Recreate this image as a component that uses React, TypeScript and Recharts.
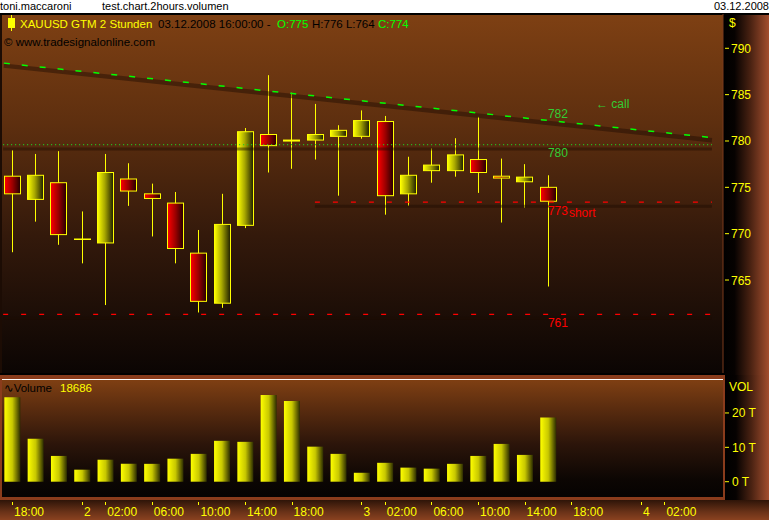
import React from "react";
import { ComposedChart, Bar, XAxis, YAxis, ReferenceLine, ReferenceDot } from "recharts";

// 2h XAUUSD candles, 01.12 18:00 -> 03.12 16:00
const opens = [776.2, 773.7, 775.5, 769.4, 769.0, 775.9, 774.3, 773.3, 767.9, 762.5, 770.9, 780.7, 780.0, 780.1, 780.5, 780.5, 782.1, 774.3, 776.8, 776.8, 778.0, 776.2, 775.6, 775.0];
const highs = [779.0, 778.6, 778.9, 772.4, 778.6, 777.6, 775.4, 774.5, 770.4, 774.3, 781.4, 787.1, 785.2, 784.0, 781.7, 783.3, 782.7, 778.3, 779.2, 780.3, 782.6, 778.1, 777.5, 776.3];
const lows = [768.0, 771.3, 768.8, 766.8, 762.3, 773.0, 769.7, 766.8, 761.5, 762.0, 770.6, 776.6, 777.0, 778.0, 774.1, 780.25, 772.05, 773.0, 775.5, 776.15, 774.4, 771.2, 772.8, 764.3];
const closes = [774.3, 776.3, 769.9, 769.4, 776.6, 774.6, 773.8, 768.4, 762.7, 771.0, 781.0, 779.5, 780.1, 780.7, 781.15, 782.2, 774.1, 776.3, 777.4, 778.5, 776.6, 776.0, 776.1, 773.5];
// volume in thousands
const volumes = [24.6, 12.5, 7.5, 3.5, 6.4, 5.2, 5.2, 6.7, 8.1, 11.9, 11.6, 25.2, 23.5, 10.2, 8.1, 2.6, 5.5, 4.1, 3.8, 5.2, 7.5, 11.0, 7.8, 18.686];

const timeTicks = [0, 3, 4, 6, 8, 10, 12, 15, 16, 18, 20, 22, 24, 27, 28];
const timeLabels = ["18:00", "2", "02:00", "06:00", "10:00", "14:00", "18:00", "3", "02:00", "06:00", "10:00", "14:00", "18:00", "4", "02:00"];
const priceTicks = [765, 770, 775, 780, 785, 790];
const volTicks = [0, 10, 20];

// drawn levels
const trendLine = [{ x: -0.35, y: 788.4 }, { x: 30.04, y: 780.36 }];
const callLevel = 779.6;
const shortLevel = 773.4;
const stopLevel = 761.3;
const levelStart = -0.38;
const shortStart = 13;
const levelEnd = 30.04;

const candles = opens.map((o, i) => ({ i, o, h: highs[i], l: lows[i], c: closes[i], range: [lows[i], highs[i]] }));
const volData = volumes.map((v, i) => ({ i, v }));

const X_DOMAIN: [number, number] = [-0.386, 30.515];
const PRICE_DOMAIN: [number, number] = [754.97, 793.7];
const VOL_DOMAIN: [number, number] = [-4.45, 29.3];

const FONT = '"Liberation Sans", Arial, "DejaVu Sans", sans-serif';
const YELLOW = "#ffff00";
const GREEN = "#33cc33";
const RED = "#ff0000";
const SHADOW = "rgba(28,10,2,0.45)";

function Candle(props: any) {
  const { x, y, width, height, payload } = props;
  const cx = Math.round(x + width / 2) + 0.5;
  const top = Math.min(y, y + height);
  const h = Math.abs(height);
  const ppu = h / (payload.h - payload.l);
  const yOf = (v: number) => top + (payload.h - v) * ppu;
  const bTop = yOf(Math.max(payload.o, payload.c));
  const bBot = yOf(Math.min(payload.o, payload.c));
  return (
    <g>
      <line x1={cx} x2={cx} y1={top} y2={top + h} stroke={YELLOW} strokeWidth={1} />
      {payload.o === payload.c ? (
        <line x1={cx - 8.5} x2={cx + 8.5} y1={bTop} y2={bTop} stroke={YELLOW} strokeWidth={1.5} />
      ) : (
        <rect x={cx - 8} y={bTop} width={16} height={Math.max(bBot - bTop, 1)}
          fill={payload.c > payload.o ? "url(#gBull)" : "url(#gBear)"} stroke={YELLOW} strokeWidth={1} />
      )}
    </g>
  );
}

function levelShape(color: string, dash: string, off: number, shadowW: number, w = 1.2) {
  return (p: any) => (
    <g>
      <line x1={p.x1} y1={p.y1 + off} x2={p.x2} y2={p.y2 + off} stroke={SHADOW} strokeWidth={shadowW} />
      <line x1={p.x1} y1={p.y1} x2={p.x2} y2={p.y2} stroke={color} strokeWidth={w} strokeDasharray={dash} />
    </g>
  );
}

function textLabel(text: string, color: string, dx: number, dy: number) {
  return (p: any) => {
    const vb = p.viewBox || {};
    return (
      <text x={vb.x + dx} y={vb.y + dy} fill={color} fontSize={12} fontFamily={FONT}>{text}</text>
    );
  };
}

function PriceTick(props: any) {
  const { x, y, payload } = props;
  return (
    <g>
      <line x1={x + 2} x2={x + 6} y1={y} y2={y} stroke={YELLOW} />
      <text x={x + 8} y={y + 4.5} fill={YELLOW} fontSize={12} fontFamily={FONT}>{payload.value}</text>
    </g>
  );
}

function VolTick(props: any) {
  const { x, y, payload } = props;
  return (
    <g>
      <line x1={x + 2} x2={x + 6} y1={y} y2={y} stroke={YELLOW} />
      <text x={x + 9} y={y + 4.5} fill={YELLOW} fontSize={12} fontFamily={FONT}>{payload.value} T</text>
    </g>
  );
}

function TimeTick(props: any) {
  const { x, y, payload } = props;
  const k = timeTicks.indexOf(payload.value);
  const tx = Math.round(x) + 0.5;
  return (
    <g>
      <line x1={tx} x2={tx} y1={y + 5} y2={y + 8} stroke={YELLOW} />
      <text x={x + 2} y={y + 19} fill={YELLOW} fontSize={12} fontFamily={FONT}>{timeLabels[k]}</text>
    </g>
  );
}

const abs = (l: number, t: number, w: number, h: number, extra: React.CSSProperties = {}): React.CSSProperties => ({
  position: "absolute", left: l, top: t, width: w, height: h, ...extra,
});

const txt = (l: number, t: number, color: string, size = 11.5): React.CSSProperties => ({
  position: "absolute", left: l, top: t, color, fontSize: size, fontFamily: FONT, lineHeight: "12px", whiteSpace: "nowrap",
});

export default function App() {
  return (
    <div style={{ position: "absolute", left: 0, top: 0, width: 769, height: 520, overflow: "hidden", background: "#fff" }}>
      <svg width={0} height={0} style={{ position: "absolute" }}>
        <defs>
          <linearGradient id="gBull" x1="0" y1="0" x2="1" y2="0">
            <stop offset="0%" stopColor="#ffff00" />
            <stop offset="45%" stopColor="#a8a800" />
            <stop offset="100%" stopColor="#1c1c00" />
          </linearGradient>
          <linearGradient id="gBear" x1="0" y1="0" x2="1" y2="0">
            <stop offset="0%" stopColor="#ff0000" />
            <stop offset="50%" stopColor="#9a0000" />
            <stop offset="100%" stopColor="#220000" />
          </linearGradient>
          <linearGradient id="gVol" x1="0" y1="0" x2="1" y2="0">
            <stop offset="0%" stopColor="#ffff00" />
            <stop offset="50%" stopColor="#c8c800" />
            <stop offset="100%" stopColor="#2c2c00" />
          </linearGradient>
        </defs>
      </svg>

      {/* title strip */}
      <div style={txt(0, 0, "#000", 11)}>toni.maccaroni</div>
      <div style={txt(102, 0, "#000", 11)}>test.chart.2hours.volumen</div>
      <div style={{ ...txt(0, 0, "#000", 11), left: "auto", right: 0 }}>03.12.2008</div>
      <div style={abs(0, 13, 769, 2, { background: "#000" })} />

      {/* panel backgrounds */}
      <div style={abs(0, 15, 723, 358, {
        background: "linear-gradient(to bottom, #7e4013 0%, #5e2f0f 30%, #33190b 62%, #0b0503 100%)",
        borderLeft: "2px solid #1c0c04", boxSizing: "border-box",
      })} />
      <div style={abs(0, 373, 723, 2, { background: "#000" })} />
      <div style={abs(723, 15, 46, 360, {
        background: "linear-gradient(to right, #000 0%, #060201 25%, #4a2212 60%, #a34e2e 100%)",
      })} />
      <div style={abs(0, 375, 725, 125, { background: "#8a3c1c" })} />
      <div style={abs(2, 379, 721, 118, {
        background: "linear-gradient(to bottom, #804013 0%, #5a2c0f 25%, #2c150a 55%, #0c0603 85%, #050302 100%)",
      })} />
      <div style={abs(2, 379, 721, 1, { background: "#fff" })} />
      <div style={abs(725, 375, 44, 125, {
        background: "linear-gradient(to right, #000 0%, #060201 25%, #4a2212 60%, #a34e2e 100%)",
      })} />
      <div style={abs(0, 500, 769, 20, { background: "linear-gradient(to bottom, #2e1408 0%, #6a3218 60%, #8a4220 100%)" })} />

      {/* price panel */}
      <div style={abs(0, 14, 769, 361)}>
        <ComposedChart width={769} height={361} data={candles} margin={{ top: 0, right: 0, bottom: 2, left: 3 }}>
          <XAxis type="number" dataKey="i" domain={X_DOMAIN} allowDataOverflow hide />
          <YAxis orientation="right" width={46} domain={PRICE_DOMAIN} allowDataOverflow ticks={priceTicks}
            interval={0} tickSize={0} tickMargin={0} tickLine={false} axisLine={{ stroke: "#7a3a1c" }}
            tick={(p: any) => <PriceTick {...p} />} />
          <ReferenceLine ifOverflow="visible" segment={trendLine}
            shape={levelShape("#00ff00", "6 12", 2.5, 4.5, 1.5)} />
          <ReferenceLine ifOverflow="visible" segment={[{ x: levelStart, y: callLevel }, { x: levelEnd, y: callLevel }]}
            shape={levelShape("#22cc22", "1 3", 4.2, 3)} />
          <ReferenceLine ifOverflow="visible" segment={[{ x: shortStart, y: shortLevel }, { x: levelEnd, y: shortLevel }]}
            shape={levelShape(RED, "5 13", 4, 3, 1.3)} />
          <ReferenceLine ifOverflow="visible" segment={[{ x: levelStart, y: stopLevel }, { x: levelEnd, y: stopLevel }]}
            shape={levelShape(RED, "5 13", 4, 3, 1.3)} />
          <Bar dataKey="range" barSize={17} isAnimationActive={false} shape={(p: any) => <Candle {...p} />} />
          <ReferenceDot x={23} y={782.2} r={0} fill="none" stroke="none" label={{ content: textLabel("782", GREEN, 0, -3) }} />
          <ReferenceDot x={25} y={783.6} r={0} fill="none" stroke="none" label={{ content: textLabel("← call", GREEN, 1.5, 0) }} />
          <ReferenceDot x={23} y={callLevel} r={0} fill="none" stroke="none" label={{ content: textLabel("780", GREEN, 0, 12) }} />
          <ReferenceDot x={23} y={shortLevel} r={0} fill="none" stroke="none" label={{ content: textLabel("773", RED, 0, 12.5) }} />
          <ReferenceDot x={23} y={shortLevel} r={0} fill="none" stroke="none" label={{ content: textLabel("short", RED, 21, 14.5) }} />
          <ReferenceDot x={23} y={stopLevel} r={0} fill="none" stroke="none" label={{ content: textLabel("761", RED, 0, 12.5) }} />
        </ComposedChart>
      </div>

      {/* volume panel */}
      <div style={abs(0, 380, 769, 140)}>
        <ComposedChart width={769} height={140} data={volData} margin={{ top: 1, right: 0, bottom: 0, left: 3 }}>
          <XAxis type="number" dataKey="i" domain={X_DOMAIN} allowDataOverflow ticks={timeTicks} interval={0}
            height={23} tickSize={0} tickMargin={0} tickLine={false} axisLine={false}
            tick={(p: any) => <TimeTick {...p} />} />
          <YAxis orientation="right" width={46} domain={VOL_DOMAIN} allowDataOverflow ticks={volTicks}
            interval={0} tickSize={0} tickMargin={0} tickLine={false} axisLine={false}
            tick={(p: any) => <VolTick {...p} />} />
          <Bar dataKey="v" barSize={16} fill="url(#gVol)" isAnimationActive={false} />
        </ComposedChart>
      </div>

      {/* headers */}
      <div style={abs(11, 15, 1, 16, { background: YELLOW })} />
      <div style={abs(8, 18, 7, 10, { background: YELLOW })} />
      <div style={txt(20, 18, YELLOW)}>XAUUSD GTM 2 Stunden</div>
      <div style={txt(158, 18, "#000")}>03.12.2008 16:00:00 -</div>
      <div style={txt(277, 18, "#00ff00")}>O:775</div>
      <div style={txt(312, 18, "#000")}>H:776 L:764</div>
      <div style={txt(378, 18, "#00ff00")}>C:774</div>
      <div style={txt(4, 36, "#000")}>© www.tradesignalonline.com</div>
      <div style={txt(729, 17, YELLOW, 12)}>$</div>

      <div style={txt(4, 382, "#000")}>∿Volume</div>
      <div style={txt(60, 382, YELLOW)}>18686</div>
      <div style={txt(729, 381, YELLOW, 12)}>VOL</div>
    </div>
  );
}
